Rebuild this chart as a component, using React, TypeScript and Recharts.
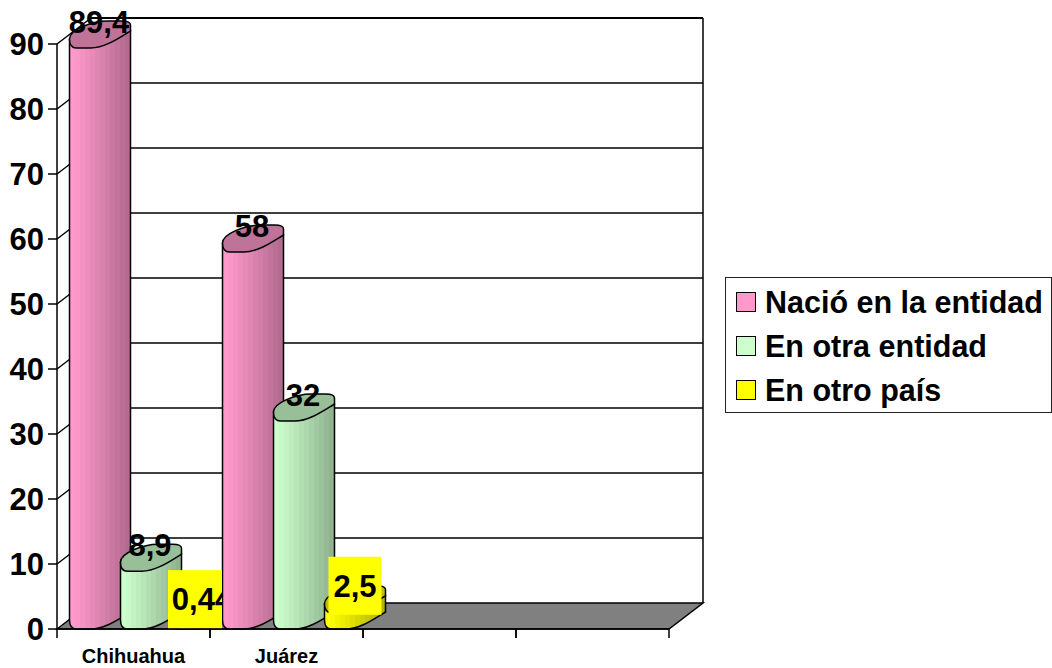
import React from "react";
import { BarChart, Bar, XAxis, YAxis, CartesianGrid, Legend, LabelList } from "recharts";

const categories = ["Chihuahua", "Juárez", "", ""];
const nacio: (number | null)[] = [89.4, 58, null, null];
const otraEntidad: (number | null)[] = [8.9, 32, null, null];
const otroPais: (number | null)[] = [0.44, 2.5, null, null];
const yTicks = [0, 10, 20, 30, 40, 50, 60, 70, 80, 90];

const rows = categories.map((name, i) => ({
  name,
  key: "c" + i,
  nacio: nacio[i],
  otraEntidad: otraEntidad[i],
  otroPais: otroPais[i],
}));

const FONT = "'Liberation Sans', Arial, sans-serif";
const DX = 34;
const DY = -26;
const FACE = 61;
const HALF_BAND = 76.5;

const shades: Record<string, { id: string; rgb: [number, number, number]; top: string }> = {
  pink: { id: "gradPink", rgb: [255, 153, 204], top: "#BF7399" },
  green: { id: "gradGreen", rgb: [204, 255, 204], top: "#99BF99" },
  yellow: { id: "gradYellow", rgb: [255, 255, 0], top: "#BFBF00" },
};

function Stripes({ id, rgb }: { id: string; rgb: [number, number, number] }) {
  const n = 12;
  const stops: React.ReactNode[] = [];
  for (let i = 0; i < n; i++) {
    const k = 1 - 0.3 * Math.pow(i / (n - 1), 1.1);
    const c = `rgb(${rgb.map((v) => Math.round(v * k)).join(",")})`;
    stops.push(<stop key={i + "a"} offset={i / n} stopColor={c} />);
    stops.push(<stop key={i + "b"} offset={(i + 1) / n} stopColor={c} />);
  }
  return (
    <linearGradient id={id} x1="0" y1="0" x2="1" y2="0">
      {stops}
    </linearGradient>
  );
}

function Cylinder(props: any) {
  const { y, height, shade, index } = props;
  const x = props.x - 0.5;
  if (props.value == null || (Array.isArray(props.value) && props.value[1] == null)) return null;
  if (y == null || Number.isNaN(y)) return null;
  const s = shades[shade];
  const base = y + height;
  const r = x + FACE;
  const body = `M${x},${y - 9} L${x},${base - 9} Q${x},${base} ${x + 7},${base} L${x + 21},${base} C${x + 36},${base} ${r - 10},${base - 11} ${r},${base - 17} L${r},${y - 17} Z`;
  const top = `M${x},${y - 9} Q${x},${y} ${x + 7},${y} L${x + 21},${y} C${x + 36},${y} ${r - 10},${y - 11} ${r},${y - 17} L${r},${y - 23} Q${r},${y - 27} ${r - 9},${y - 27} L${x + 38},${y - 27} C${x + 22},${y - 27} ${x},${y - 18} ${x},${y - 9} Z`;
  const hidden = shade === "yellow" && nacio[index + 1] != null;
  const clipId = "clipBar" + index;
  return (
    <g clipPath={hidden ? `url(#${clipId})` : undefined}>
      {hidden ? (
        <clipPath id={clipId}>
          <rect x={x - 5} y={y - 40} width={55} height={height + 60} />
        </clipPath>
      ) : null}
      <path d={body} fill={`url(#${s.id})`} stroke="#000" strokeWidth={1.5} />
      <path d={top} fill={s.top} stroke="#000" strokeWidth={1.5} />
    </g>
  );
}

function fmt(v: number) {
  return String(v).replace(".", ",");
}

function PlainLabel(props: any) {
  const { x, y, value } = props;
  if (value == null) return null;
  return (
    <text x={x + 29} y={y - 26} dy="0.35em" textAnchor="middle" fontFamily={FONT} fontWeight={700} fontSize={31} fill="#000">
      {fmt(value)}
    </text>
  );
}

function BoxLabel(props: any) {
  const { x, y, value, index } = props;
  if (value == null) return null;
  const label = fmt(value);
  const w = label.length * 15 + 8;
  const cx = x + 30;
  const cy = y - 27;
  const clipId = "clipBox" + index;
  const nextStart = nacio[index + 1] != null ? x + 50 : undefined;
  return (
    <g clipPath={nextStart ? `url(#${clipId})` : undefined}>
      {nextStart ? (
        <clipPath id={clipId}>
          <rect x={cx - 50} y={cy - 50} width={nextStart - (cx - 50)} height={100} />
        </clipPath>
      ) : null}
      <rect x={cx - w / 2} y={cy - 29} width={w} height={58} fill="#FFFF00" />
      <text x={cx} y={cy} dy="0.35em" textAnchor="middle" fontFamily={FONT} fontWeight={700} fontSize={31} fill="#000">
        {label}
      </text>
    </g>
  );
}

function WallLine(props: any) {
  const { x1, y1, x2, y2, index } = props;
  const isFloor = Math.abs(y1 - 629) < 1;
  const isTop = Math.abs(y1 - 44) < 1;
  return (
    <g key={index}>
      {isTop ? (
        <line x1={x2 + DX} y1={y1 + DY} x2={x2 + DX} y2={629 + DY} stroke="#000" strokeWidth={1.5} />
      ) : null}
      {isFloor ? (
        <polygon
          points={`${x1},${y1} ${x1 + DX},${y1 + DY} ${x2 + DX},${y2 + DY} ${x2},${y2}`}
          fill="#808080"
          stroke="#000"
          strokeWidth={1.5}
        />
      ) : (
        <>
          <line x1={x1} y1={y1} x2={x1 + DX} y2={y1 + DY} stroke="#000" strokeWidth={1.5} />
          <line x1={x1 + DX} y1={y1 + DY} x2={x2 + DX} y2={y2 + DY} stroke="#000" strokeWidth={isTop ? 2 : 1.5} />
        </>
      )}
    </g>
  );
}

function CategoryTick(props: any) {
  const { x, y, payload } = props;
  return (
    <g>
      <line x1={x - HALF_BAND} y1={629} x2={x - HALF_BAND} y2={638} stroke="#000" strokeWidth={1.5} />
      <line x1={x + HALF_BAND} y1={629} x2={x + HALF_BAND} y2={638} stroke="#000" strokeWidth={1.5} />
      <text x={x} y={y + 26} textAnchor="middle" fontFamily={FONT} fontWeight={700} fontSize={20} fill="#000">
        {payload.value}
      </text>
    </g>
  );
}

function LegendBox(props: any) {
  const items: any[] = props.payload || [];
  return (
    <div
      style={{
        boxSizing: "border-box",
        width: 327,
        height: 136,
        border: "1.5px solid #222",
        background: "#fff",
        padding: "2px 0 0 10px",
        fontFamily: FONT,
        fontWeight: 700,
        fontSize: 30.5,
        color: "#000",
      }}
    >
      {items.map((it) => (
        <div key={it.value} style={{ display: "flex", alignItems: "center", height: 44 }}>
          <span
            style={{
              display: "inline-block",
              boxSizing: "border-box",
              width: 20,
              height: 20,
              background: it.color,
              border: "1.5px solid #000",
              marginRight: 9,
            }}
          />
          <span style={{ whiteSpace: "nowrap" }}>{it.value}</span>
        </div>
      ))}
    </div>
  );
}

export default function App() {
  return (
    <div style={{ position: "absolute", left: 0, top: 0, width: 1052, height: 668, background: "#fff", overflow: "hidden" }}>
      <BarChart
        width={1052}
        height={668}
        data={rows}
        margin={{ top: 44, right: 383, bottom: 0, left: 0 }}
        barSize={25}
        barGap={26}
      >
        <defs>
          {Object.values(shades).map((s) => (
            <Stripes key={s.id} id={s.id} rgb={s.rgb} />
          ))}
        </defs>
        <CartesianGrid vertical={false} horizontal={(p: any) => <WallLine {...p} />} />
        <XAxis
          dataKey="key"
          height={39}
          interval={0}
          tickLine={false}
          stroke="#000"
          strokeWidth={1.5}
          tick={(p: any) => <CategoryTick {...p} payload={{ value: categories[p.index] }} />}
        />
        <YAxis
          width={57}
          domain={[0, 90]}
          ticks={yTicks}
          interval={0}
          tickSize={9}
          tickMargin={4}
          stroke="#000"
          strokeWidth={1.5}
          tick={{ fontFamily: FONT, fontWeight: 700, fontSize: 31, fill: "#000" }}
        />
        <Legend
          layout="vertical"
          align="center"
          verticalAlign="middle"
          itemSorter={null}
          content={<LegendBox />}
          wrapperStyle={{ position: "absolute", left: 725, top: 277, width: 327, height: 136 }}
        />
        <Bar dataKey="nacio" name="Nació en la entidad" fill="#FF99CC" isAnimationActive={false} shape={(p: any) => <Cylinder {...p} shade="pink" />}>
          <LabelList dataKey="nacio" content={<PlainLabel />} />
        </Bar>
        <Bar dataKey="otraEntidad" name="En otra entidad" fill="#CCFFCC" isAnimationActive={false} shape={(p: any) => <Cylinder {...p} shade="green" />}>
          <LabelList dataKey="otraEntidad" content={<PlainLabel />} />
        </Bar>
        <Bar dataKey="otroPais" name="En otro país" fill="#FFFF00" isAnimationActive={false} shape={(p: any) => <Cylinder {...p} shade="yellow" />}>
          <LabelList dataKey="otroPais" content={<BoxLabel />} />
        </Bar>
      </BarChart>
    </div>
  );
}
